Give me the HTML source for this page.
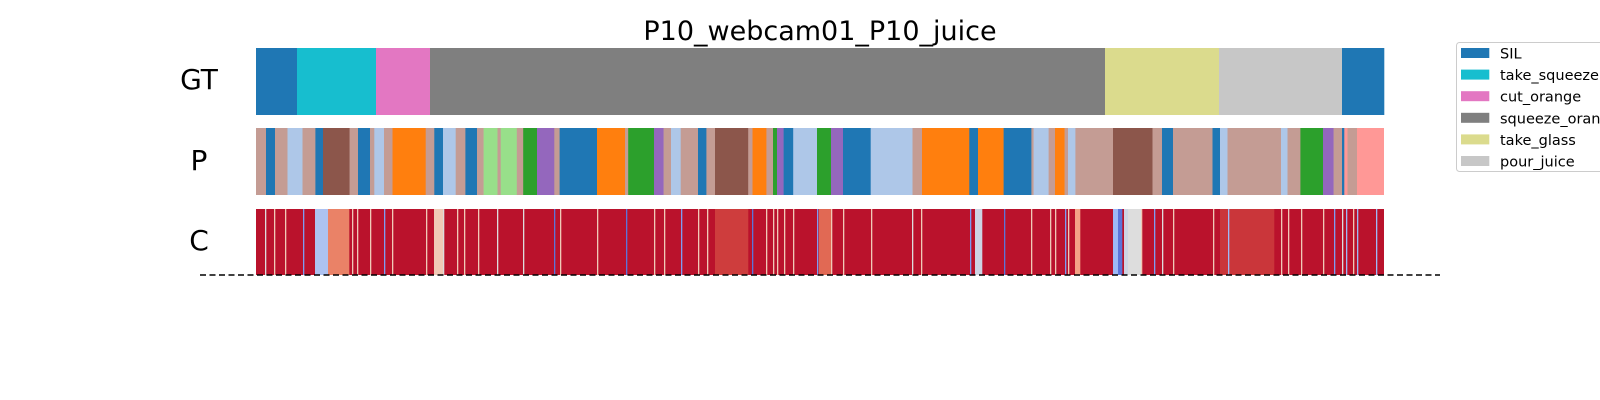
<!DOCTYPE html>
<html><head><meta charset="utf-8"><style>
html,body{margin:0;padding:0;background:#fff;overflow:hidden}
svg{display:block;font-family:"DejaVu Sans","Liberation Sans",sans-serif}
</style></head><body>
<svg id="chart" width="1600" height="400" viewBox="0 0 1600 400">
<rect width="1600" height="400" fill="#fff"/>
<text x="820" y="40" font-size="27" text-anchor="middle" fill="#000">P10_webcam01_P10_juice</text>
<text x="199" y="89" font-size="28" text-anchor="middle">GT</text>
<text x="199" y="170" font-size="28" text-anchor="middle">P</text>
<text x="199" y="250" font-size="28" text-anchor="middle">C</text>
<g id="gt"></g>
<g id="pr"></g>
<g id="cf"></g>
<line x1="200" y1="275" x2="1440" y2="275" stroke="#000" stroke-width="1.4" stroke-dasharray="6,3.5"/>
<g>
<rect x="1456.5" y="42.5" width="180" height="129" rx="3" fill="#fff" stroke="#ccc"/>
<g id="leg"></g>
</g>
</svg>
<script>
const colors={SIL:"#1f77b4",take_squeezer:"#17becf",cut_orange:"#e377c2",squeeze_orange:"#7f7f7f",take_glass:"#dbdb8d",pour_juice:"#c7c7c7",
a:"#c49c94",b:"#1f77b4",lb:"#aec7e8",br:"#8c564b",o:"#ff7f0e",lg:"#98df8a",g:"#2ca02c",pu:"#9467bd",pk:"#ff9896"};
const totalFrames=1128;
const gtLabels=["SIL","take_squeezer","cut_orange","squeeze_orange","take_glass","pour_juice","SIL"];
const gtEnds=[41,120,174,849,963,1086,1128];
const predLabels=["a","b","a","lb","a","b","br","a","b","a","lb","a","o","a","b","lb","a","b","a","lg","a","lg","a","g","pu","a","b","o","a","g","pu","a","lb","a","b","a","br","a","o","a","g","pu","b","lb","g","pu","b","lb","a","o","b","o","b","a","lb","a","o","a","lb","a","br","a","b","a","b","lb","a","lb","a","g","pu","a","b","pk","a","pk"];
const predEnds=[10,19,31.5,46.5,59.4,67,93.6,102,114,118.3,128,136.5,169.7,178.3,187,199.7,209.4,221,227.6,241.5,244.7,260.8,267.2,281,298.3,303.6,341,369,372.2,398,407.6,415,424.7,442,450.4,459,492.2,496.5,510.4,517,521,527.6,537.2,561,575,587,614.7,656.5,666,713.3,722,747.6,775.4,777.6,792.6,799,808.6,812,819.4,857,896.5,906,917,956.5,964,971.5,1025,1031.5,1044.4,1067,1077.6,1086,1088.3,1091.5,1101,1128];
const confFrames=[9,18,29,47,59,72,96,101,114,128,136,170,178,187,201,208,222,241,267,298,304,341,370,398,408,425,442,451,459,496,510,517,521,528,537,561,563,575,587,615,656,665,714,719,748,775,794,799,809,812,819,857,862,868,872,885,898,906,917,957,964,972,1025,1032,1045,1067,1078,1086,1090,1097,1101,1120];
const confValues=[0.5,0.6,0.6,0.2,0.35,0.8,0.6,0.6,0.6,0.2,0.6,0.6,0.6,0.5,0.6,0.6,0.6,0.5,0.5,0.1,0.6,0.6,0.1,0.6,0.6,0.2,0.6,0.6,0.92,0.1,0.6,0.6,0.6,0.6,0.6,0.2,0.85,0.6,0.6,0.6,0.5,0.6,0.2,0.45,0.1,0.6,0.6,0.6,0.2,0.6,0.72,0.3,0.1,0.45,0.5,0.6,0.2,0.5,0.6,0.6,0.93,0.3,0.6,0.6,0.6,0.6,0.2,0.5,0.3,0.6,0.3,0.3];
const confWidths=[1,1,1,1,13,21,1,1,1,1,1,1,9,1,1,1,1,1,1,1,1,1,1,1,1,1,1,1,33,1,1,1,1,1,1,1,12,1,1,1,1,1,1,7,1,1,1,1,1,1,5,6,4,13,13,1,1,1,1,1,54,1,1,1,1,1,1,1,1,1,1,1];
const X0=256,X1=1384;
const xs=f=>X0+(X1-X0)*f/totalFrames;
const NS="http://www.w3.org/2000/svg";
function seg(g,x0,x1,y,h,fill){const r=document.createElementNS(NS,"rect");r.setAttribute("x",x0);r.setAttribute("y",y);r.setAttribute("width",Math.max(1.2,x1-x0+0.3));r.setAttribute("height",h);r.setAttribute("fill",fill);g.appendChild(r);return r;}
const gt=document.getElementById("gt");let s=0;
gtLabels.forEach((l,i)=>{const r=seg(gt,xs(s),xs(gtEnds[i]),48,67,colors[l]);

s=gtEnds[i];});
const pr=document.getElementById("pr");s=0;
predLabels.forEach((l,i)=>{const r=seg(pr,xs(s),Math.min(xs(predEnds[i]),X1-0.3),128,67,colors[l]);

s=predEnds[i];});
const stops=[[0,[59,76,192]],[0.25,[141,176,254]],[0.5,[221,221,221]],[0.625,[245,196,172]],[0.75,[244,154,123]],[0.875,[220,93,74]],[1,[180,4,38]]];
function cmap(v){for(let i=1;i<stops.length;i++){if(v<=stops[i][0]){const a=stops[i-1],b=stops[i],t=(v-a[0])/(b[0]-a[0]);const c=a[1].map((x,k)=>Math.round(x+(b[1][k]-x)*t));return `rgb(${c})`;}}return "rgb(180,4,38)";}
const cf=document.getElementById("cf");
seg(cf,xs(0),xs(totalFrames)-0.3,209,66,cmap(0.98));
confFrames.forEach((f,i)=>{const r=seg(cf,xs(f),Math.min(xs(f+confWidths[i]),X1-0.3),209,66,cmap(confValues[i]));

});
const leg=document.getElementById("leg");
const legendLabels=["SIL","take_squeezer","cut_orange","squeeze_orange","take_glass","pour_juice"];
legendLabels.forEach((l,i)=>{const y=48+i*21.6;const r=seg(leg,1461,1489,y,10,colors[l]);


const t=document.createElementNS(NS,"text");t.setAttribute("x",1500);t.setAttribute("y",y+10.5);t.setAttribute("font-size","14.5");t.textContent=l;


leg.appendChild(t);});
</script>
</body></html>
